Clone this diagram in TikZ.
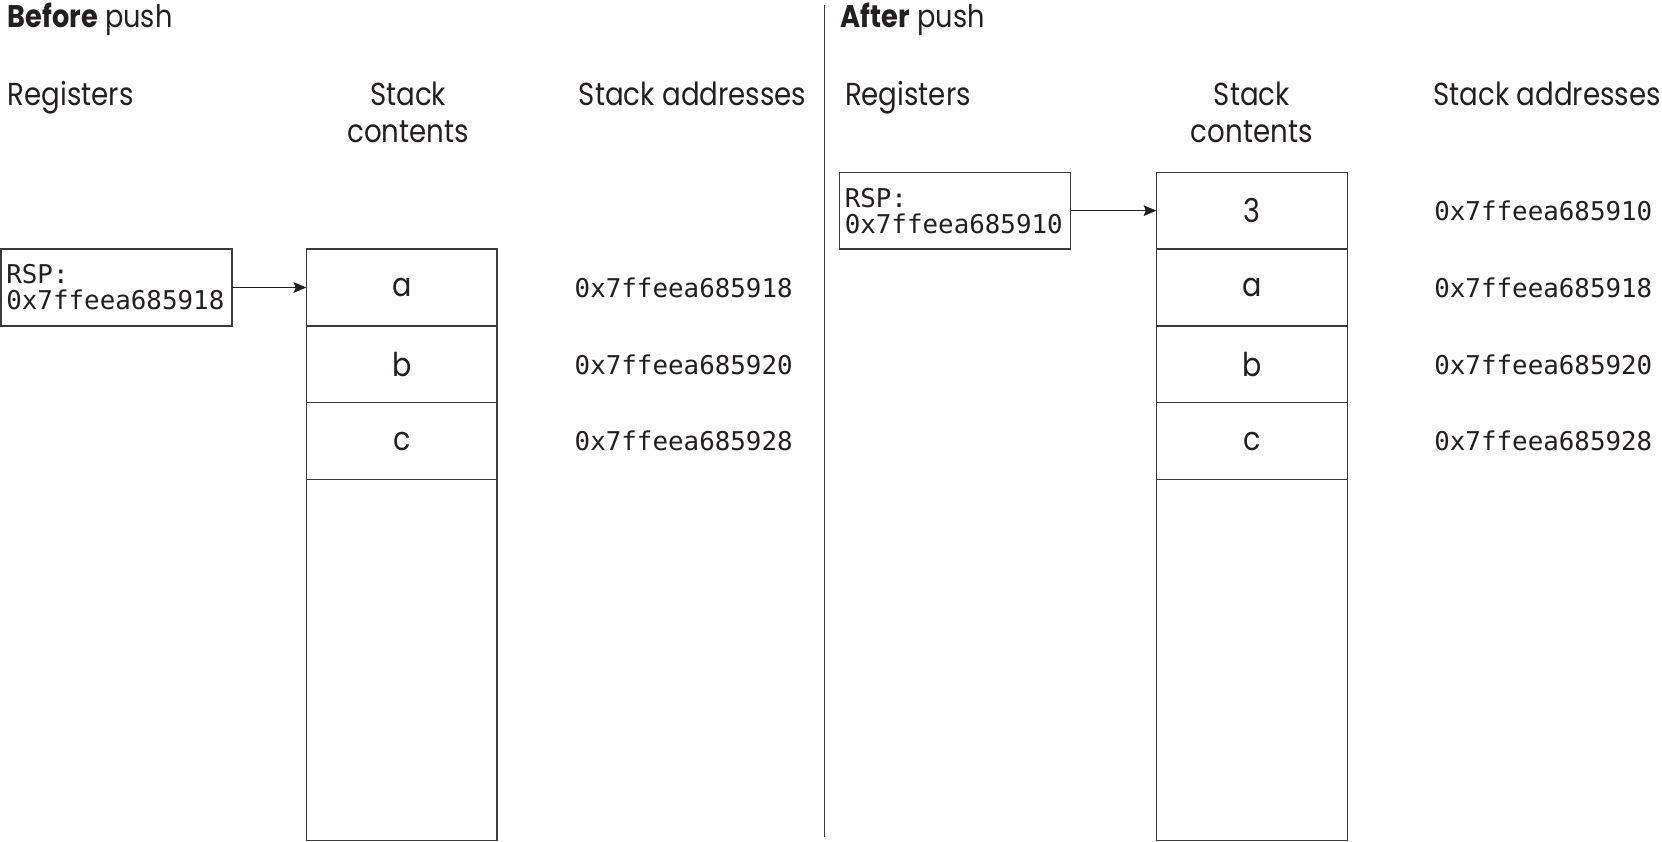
\documentclass[tikz,border=0pt]{standalone}
\usepackage{fontspec}
\setmainfont{Poppins}[FakeStretch=0.87]
\setmonofont{DejaVu Sans Mono}
\usetikzlibrary{shapes,arrows,arrows.meta,positioning}

\definecolor{ink}{HTML}{231F20}
\definecolor{rule}{HTML}{3A3A3A}

\begin{document}
\begin{tikzpicture}[x=1pt, y=-1pt, node distance=0pt, text=ink,
        title/.style={anchor=base west, inner sep=0pt, font=\fontsize{29.5}{34}\selectfont},
        heading/.style={inner sep=0pt, align=center, font=\fontsize{30}{34.5}\selectfont},
        cell/.style={rectangle, draw=rule, line width=1.2pt, outer sep=0pt, inner sep=0pt,
            minimum width=180pt, minimum height=72.5pt, font=\fontsize{31}{36}\selectfont},
        reg/.style={rectangle, draw=rule, line width=1.2pt, outer sep=0pt, inner xsep=5pt,
            text width=208pt, minimum height=72.5pt, align=left, font=\ttfamily\fontsize{24.4}{24.6}\selectfont},
        addr/.style={anchor=west, inner sep=0pt, font=\ttfamily\fontsize{24.4}{25}\selectfont},
        line/.style={draw=ink, line width=1.3pt, -{Stealth[length=12pt, width=10pt, inset=2pt]}}
    ]
        \useasboundingbox (0,0) rectangle (1568,794.3);
        % Divider
        \draw[line width=1.2pt, rule] (778,5) -- (778,790);

        % Before push
        \node[title] (before) at (7,25.5) {\textbf{Before} push};
        \node[heading, anchor=base west] (regsL) at (7,100) {Registers};
        \node[heading, anchor=base] (contL) at (385,100) {Stack};
        \node[heading, anchor=base] (contL2) at (385,134.5) {contents};
        \node[heading, anchor=base west] (addrsL) at (546,100) {Stack addresses};
        % Stack
        \node[cell, anchor=north west] (aL) at (289,235) {a};
        \node[cell, below=of aL] (bL) {b};
        \node[cell, below=of bL] (cL) {c};
        \node[cell, below=of cL, minimum height=340.5pt] (freeL) {};
        % Addresses
        \coordinate (colL) at (542,0);
        \node[addr] (adaL) at (aL.center -| colL) {0x7ffeea685918};
        \node[addr] (adbL) at (bL.center -| colL) {0x7ffeea685920};
        \node[addr] (adcL) at (cL.center -| colL) {0x7ffeea685928};
        % Register
        \node[reg, anchor=north west] (rspL) at (1,235) {RSP:\\0x7ffeea685918};
        \path[line] (rspL) -- (aL);

        % After push
        \node[title] (after) at (793,25.5) {\textbf{After} push};
        \node[heading, anchor=base west] (regsR) at (797,100) {Registers};
        \node[heading, anchor=base] (contR) at (1181,100) {Stack};
        \node[heading, anchor=base] (contR2) at (1181,134.5) {contents};
        \node[heading, anchor=base west] (addrsR) at (1352,100) {Stack addresses};
        % Stack
        \node[cell, anchor=north west] (tR) at (1091,162.5) {3};
        \node[cell, below=of tR] (aR) {a};
        \node[cell, below=of aR] (bR) {b};
        \node[cell, below=of bR] (cR) {c};
        \node[cell, below=of cR, minimum height=340.5pt] (freeR) {};
        % Addresses
        \coordinate (colR) at (1353,0);
        \node[addr] (adtR) at (tR.center -| colR) {0x7ffeea685910};
        \node[addr] (adaR) at (aR.center -| colR) {0x7ffeea685918};
        \node[addr] (adbR) at (bR.center -| colR) {0x7ffeea685920};
        \node[addr] (adcR) at (cR.center -| colR) {0x7ffeea685928};
        % Register
        \node[reg, anchor=north west] (rspR) at (792,162.5) {RSP:\\0x7ffeea685910};
        \path[line] (rspR) -- (tR);
    \end{tikzpicture}
\end{document}
